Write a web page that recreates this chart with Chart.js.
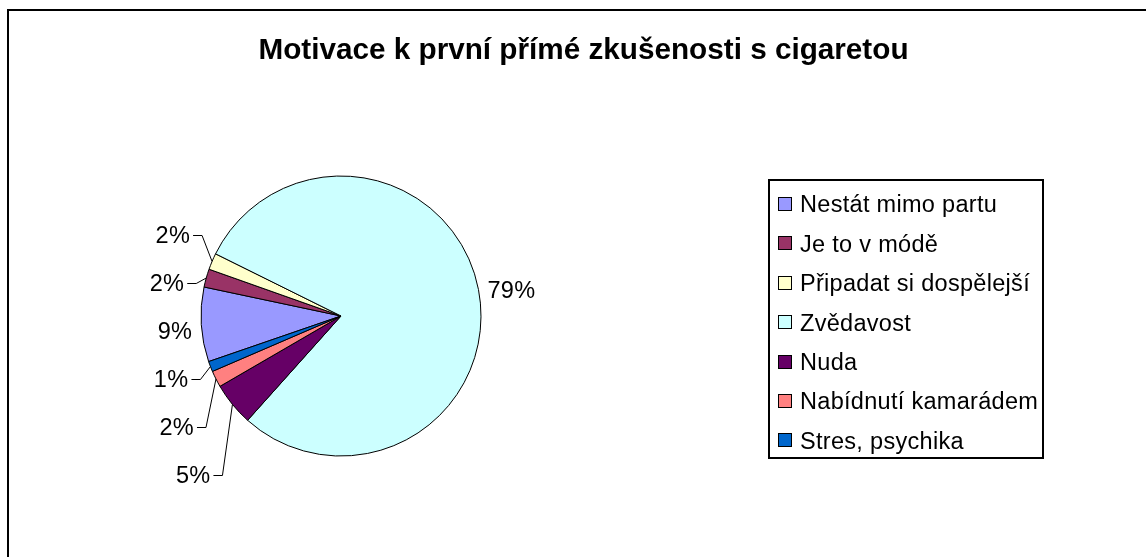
<!DOCTYPE html>
<html lang="cs">
<head>
<meta charset="utf-8">
<title>Motivace k první přímé zkušenosti s cigaretou</title>
<script src="https://cdn.jsdelivr.net/npm/chart.js@4/dist/chart.umd.min.js"></script>
<style>
  html, body { margin: 0; padding: 0; background: #fff; }
  canvas { display: block; }
</style>
</head>
<body>
<canvas id="chart" width="1146" height="557"></canvas>
<script>
// ── Data ─────────────────────────────────────────────────────────
const TITLE = 'Motivace k první přímé zkušenosti s cigaretou';
const categories = [
  'Nestát mimo partu',
  'Je to v módě',
  'Připadat si dospělejší',
  'Zvědavost',
  'Nuda',
  'Nabídnutí kamarádem',
  'Stres, psychika',
];
const shares = [8.6, 2.1, 1.9, 79.3, 5.0, 1.9, 1.2];
const colors = ['#9999ff', '#993366', '#ffffcc', '#ccffff', '#660066', '#ff8080', '#0066cc'];

// ── Look ─────────────────────────────────────────────────────────
const FONT = "'Liberation Sans', Arial, sans-serif";
const TEXT_SIZE = 23.5;
const LABEL_GAP = 48;      // min vertical distance between stacked labels
const LEGEND = { x: 769, y: 180, w: 274, h: 278, first: 204, step: 39.4, textX: 800 };

// frame, title, percent labels with leader lines, boxed legend
const excelLook = {
  id: 'excelLook',
  beforeDraw(chart) {
    const ctx = chart.ctx;
    ctx.save();
    ctx.fillStyle = '#fff';
    ctx.fillRect(0, 0, chart.width, chart.height);

    // only the top and left edge of the chart frame are in view
    ctx.strokeStyle = '#000';
    ctx.lineWidth = 2;
    ctx.beginPath();
    ctx.moveTo(8, chart.height);
    ctx.lineTo(8, 10);
    ctx.lineTo(chart.width, 10);
    ctx.stroke();

    ctx.font = `bold 29.7px ${FONT}`;
    ctx.fillStyle = '#000';
    ctx.textAlign = 'center';
    ctx.textBaseline = 'alphabetic';
    ctx.fillText(TITLE, 583.5, 59);
    ctx.restore();
  },

  afterDatasetsDraw(chart) {
    const ctx = chart.ctx;
    const total = shares.reduce((a, b) => a + b, 0);
    const meta = chart.getDatasetMeta(0);

    const pts = meta.data.map((arc, i) => {
      const p = arc.getProps(['x', 'y', 'startAngle', 'endAngle', 'outerRadius']);
      const mid = (p.startAngle + p.endAngle) / 2;
      return {
        text: Math.round(shares[i] / total * 100) + '%',
        ax: p.x + Math.cos(mid) * p.outerRadius,
        ay: p.y + Math.sin(mid) * p.outerRadius,
        left: Math.cos(mid) < 0,
        flat: Math.abs(Math.sin(mid)),
        leader: shares[i] / total < 0.06,
      };
    });

    // stack the left-hand labels around the one closest to horizontal
    const left = pts.filter(p => p.left).sort((a, b) => a.ay - b.ay);
    left.forEach(p => { p.ly = p.ay + 6; });
    const pivot = left.indexOf(left.reduce((m, p) => (p.flat < m.flat ? p : m)));
    for (let k = pivot - 1; k >= 0; k--) left[k].ly = Math.min(left[k].ly, left[k + 1].ly - LABEL_GAP);
    for (let k = pivot + 1; k < left.length; k++) left[k].ly = Math.max(left[k].ly, left[k - 1].ly + LABEL_GAP);
    pts.filter(p => !p.left).forEach(p => { p.ly = p.ay; });

    ctx.save();
    ctx.font = `${TEXT_SIZE}px ${FONT}`;
    ctx.letterSpacing = '0.3px';
    ctx.fillStyle = '#000';
    ctx.strokeStyle = '#000';
    ctx.lineWidth = 1;
    ctx.textBaseline = 'alphabetic';
    const capHalf = TEXT_SIZE * 0.358;

    pts.forEach(p => {
      if (p.left) {
        ctx.textAlign = 'right';
        if (p.leader) {
          ctx.fillText(p.text, p.ax - 22, p.ly + capHalf);
          ctx.beginPath();
          ctx.moveTo(p.ax - 19, Math.round(p.ly) + 0.5);
          ctx.lineTo(p.ax - 10, Math.round(p.ly) + 0.5);
          ctx.lineTo(p.ax, p.ay);
          ctx.stroke();
        } else {
          ctx.fillText(p.text, p.ax - 9, p.ly + capHalf);
        }
      } else {
        ctx.textAlign = 'left';
        ctx.fillText(p.text, p.ax + 9, p.ly + capHalf);
      }
    });

    // legend
    ctx.lineWidth = 2;
    ctx.strokeRect(LEGEND.x, LEGEND.y, LEGEND.w, LEGEND.h);
    ctx.lineWidth = 1;
    ctx.textAlign = 'left';
    categories.forEach((name, i) => {
      const cy = LEGEND.first + i * LEGEND.step;
      const top = Math.round(cy - 7) + 0.5;
      ctx.fillStyle = colors[i];
      ctx.fillRect(778.5, top, 13, 13);
      ctx.strokeRect(778.5, top, 13, 13);
      ctx.fillStyle = '#000';
      ctx.fillText(name, LEGEND.textX, cy + capHalf);
    });
    ctx.restore();
  },
};

// ── Chart ────────────────────────────────────────────────────────
new Chart(document.getElementById('chart').getContext('2d'), {
  type: 'pie',
  data: {
    labels: categories,
    datasets: [{
      data: shares,
      backgroundColor: colors,
      borderColor: '#000',
      borderWidth: 1,
    }],
  },
  options: {
    responsive: false,
    animation: false,
    devicePixelRatio: 1,
    rotation: 251,
    radius: 140,
    layout: { padding: { left: 150, right: 614, top: 130, bottom: 55 } },
    plugins: {
      legend: { display: false },
      title: { display: false },
      tooltip: { enabled: false },
    },
  },
  plugins: [excelLook],
});
</script>
</body>
</html>
